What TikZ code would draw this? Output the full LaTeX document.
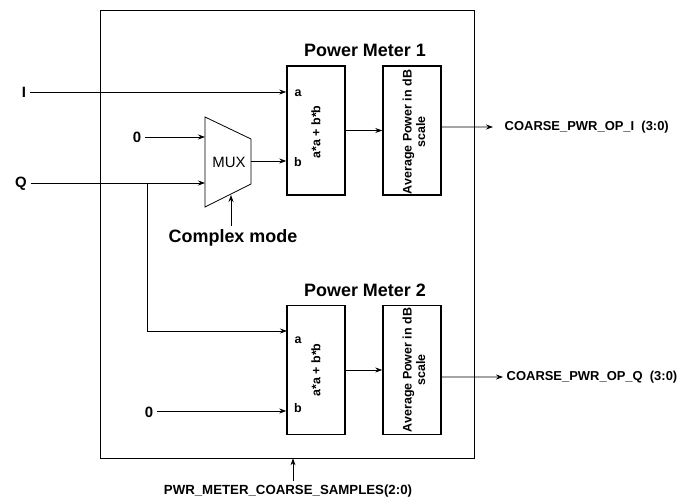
\documentclass[tikz,border=0pt]{standalone}
\usepackage{fontspec}
\setmainfont{Liberation Sans}
\usetikzlibrary{arrows.meta}

\begin{document}
\begin{tikzpicture}[x=1bp,y=-1bp,line width=0.8bp,>={Stealth[length=7bp,width=5bp]},
    blk/.style={draw,line width=1.4bp,minimum width=58bp,minimum height=129bp,inner sep=0pt},
    ttl/.style={font=\bfseries\fontsize{18}{20}\selectfont},
    sig/.style={font=\bfseries\fontsize{13}{15}\selectfont},
    inp/.style={font=\bfseries\fontsize{15}{17}\selectfont},
    pin/.style={font=\bfseries\fontsize{12.5}{14}\selectfont,inner sep=0pt},
    txt/.style={font=\bfseries\fontsize{12.5}{13.5}\selectfont,rotate=90,align=center,inner sep=0pt}]
    \useasboundingbox (0,0) rectangle (684,500);
    % outer frame
    \node[draw,line width=0.7bp,minimum width=374bp,minimum height=448bp,inner sep=0pt] (pm) at (287,234) {};
    % power meter 1
    \node[ttl] (t1) at (365,50) {Power Meter 1};
    \node[blk] (A1) at (316,130.5) {};
    \node[blk] (B1) at (412,130.5) {};
    \node[txt] (f1) at (316,132) {a*a + b*b};
    \node[txt] (g1) at (414,132) {Average Power in dB\\scale};
    \node[pin] (a1) at (298,93) {a};
    \node[pin] (b1) at (298,162) {b};
    % power meter 2
    \node[ttl] (t2) at (365,290) {Power Meter 2};
    \node[blk] (A2) at (316,370) {};
    \node[blk] (B2) at (412,370) {};
    \node[txt] (f2) at (316,370) {a*a + b*b};
    \node[txt] (g2) at (414,370) {Average Power in dB\\scale};
    \node[pin] (a2) at (298,340) {a};
    \node[pin] (b2) at (298,408) {b};
    % mux
    \coordinate (m1) at (205,117);
    \coordinate (m2) at (251,139);
    \coordinate (m3) at (251,184);
    \coordinate (m4) at (205,207);
    \draw (m1) -- (m2) -- (m3) -- (m4) -- cycle;
    \node[font=\fontsize{15}{17}\selectfont] (mux) at (229,162) {MUX};
    \coordinate (mx0) at (205,137);
    \coordinate (mxq) at (205,183);
    \coordinate (mxo) at (251,161);
    \coordinate (mxs) at (231,195);
    % inputs
    \node[inp] (I) at (24,92) {I};
    \node[inp] (Q) at (21,184) {Q};
    \node[inp] (z1) at (137,137) {0};
    \node[inp] (z2) at (149,412) {0};
    \node[ttl] (cm) at (233,238) {Complex mode};
    \draw[->] (I) -- (A1.west |- I);
    \draw[->] (z1) -- (mx0);
    \draw[->] (Q.east |- mxq) -- (mxq);
    \draw[->] (mxo) -- (A1.west |- mxo);
    \draw[->] (cm.north -| mxs) -- (mxs);
    \coordinate (jq) at (147,183);
    \coordinate (ina2) at (287,331);
    \draw[->] (jq) |- (ina2);
    \draw[->] (z2.east |- 0,411) -- (A2.west |- 0,411);
    % internal
    \draw[->] (A1.east) -- (B1.west);
    \draw[->] (A2.east) -- (B2.west);
    % outputs
    \node[sig,anchor=west] (o1) at (501,127) {COARSE\_PWR\_OP\_I\ \ (3:0)};
    \node[sig,anchor=west] (o2) at (503,377) {COARSE\_PWR\_OP\_Q\ \ (3:0)};
    \draw[->] ([yshift=3.5bp]B1.east) -- ([xshift=-8bp]o1.west);
    \draw[->] ([yshift=-7bp]B2.east) -- (o2.west);
    % samples
    \node[sig,font=\bfseries\fontsize{13.3}{15}\selectfont] (smp) at (288,491) {PWR\_METER\_COARSE\_SAMPLES(2:0)};
    \coordinate (sx) at (293,0);
    \draw[->] (smp.north -| sx) -- (pm.south -| sx);
\end{tikzpicture}
\end{document}
